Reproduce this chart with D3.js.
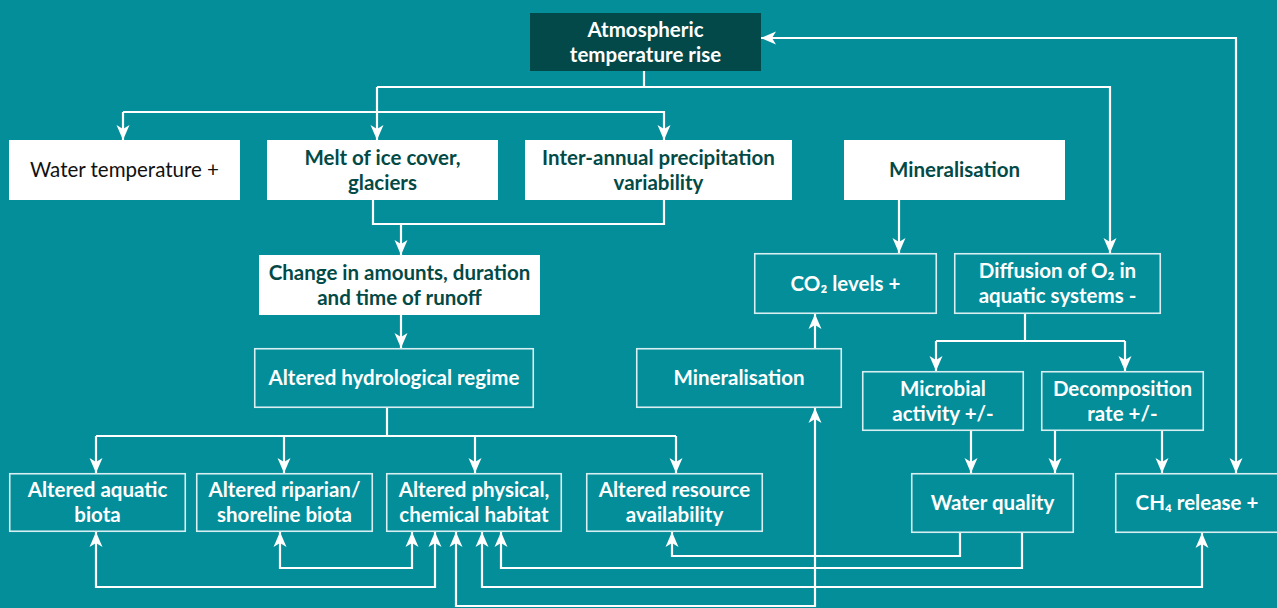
<!DOCTYPE html>
<html>
<head>
<meta charset="utf-8">
<script src="https://cdn.jsdelivr.net/npm/d3@7"></script>
<style>
html,body{margin:0;padding:0;background:#038e9a;}
svg{display:block;}
</style>
</head>
<body>
<script>
// ---------- data ----------
const nodeIds = ["atm","water","melt","inter","minTop","change","hydro","minMid","co2","o2","micro","decomp","aquatic","riparian","physical","resource","wq","ch4"];
const nodeLabels = [
  ["Atmospheric","temperature rise"],
  ["Water temperature +"],
  ["Melt of ice cover,","glaciers"],
  ["Inter-annual precipitation","variability"],
  ["Mineralisation"],
  ["Change in amounts, duration","and time of runoff"],
  ["Altered hydrological regime"],
  ["Mineralisation"],
  ["CO₂ levels +"],
  ["Diffusion of O₂ in","aquatic systems -"],
  ["Microbial","activity +/-"],
  ["Decomposition","rate +/-"],
  ["Altered aquatic","biota"],
  ["Altered riparian/","shoreline biota"],
  ["Altered physical,","chemical habitat"],
  ["Altered resource","availability"],
  ["Water quality"],
  ["CH₄ release +"]
];
const nodeKinds = ["dark","plain","white","white","white","white","outline","outline","outline","outline","outline","outline","outline","outline","outline","outline","outline","outline"];

// ---------- layout (positions / sizes) ----------
const W = 1277, H = 608;
const boxes = {
  atm:[530,13,761,71], water:[9,140,240,200], melt:[267,140,498,200], inter:[525,140,792,200],
  minTop:[844,140,1065,200], change:[259,255,540,315], hydro:[254,348,534,408], minMid:[636,348,842,408],
  co2:[754,253,937,314], o2:[954,253,1161,314], micro:[862,371,1024,431], decomp:[1041,371,1204,431],
  aquatic:[9,473,186,532], riparian:[196,473,373,532], physical:[386,473,562,532], resource:[586,473,763,532],
  wq:[911,473,1074,533], ch4:[1115,473,1279,533]
};
const T = id => boxes[id][1], B = id => boxes[id][3], L = id => boxes[id][0], R = id => boxes[id][2];
// connectors: points, arrow at start / end
const connectors = [
  {p:[[644,B("atm")],[644,87]]},
  {p:[[377,87],[377,T("melt")]], e:1},
  {p:[[377,87],[1110,87],[1110,T("o2")]], e:1},
  {p:[[123,112],[123,T("water")]], e:1},
  {p:[[123,112],[664,112],[664,T("inter")]], e:1},
  {p:[[373,B("melt")],[373,224],[664,224],[664,B("inter")]]},
  {p:[[401,224],[401,T("change")]], e:1},
  {p:[[401,B("change")],[401,T("hydro")]], e:1},
  {p:[[387,B("hydro")],[387,436]]},
  {p:[[96,436],[676,436]]},
  {p:[[96,436],[96,T("aquatic")]], e:1},
  {p:[[284,436],[284,T("riparian")]], e:1},
  {p:[[475,436],[475,T("physical")]], e:1},
  {p:[[676,436],[676,T("resource")]], e:1},
  {p:[[899,B("minTop")],[899,T("co2")]], e:1},
  {p:[[815,T("minMid")],[815,B("co2")]], e:1},
  {p:[[1025,B("o2")],[1025,341]]},
  {p:[[936,341],[1125,341]]},
  {p:[[936,341],[936,T("micro")]], e:1},
  {p:[[1125,341],[1125,T("decomp")]], e:1},
  {p:[[971,B("micro")],[971,T("wq")]], e:1},
  {p:[[1055,B("decomp")],[1055,T("wq")]], e:1},
  {p:[[1162,B("decomp")],[1162,T("ch4")]], e:1},
  {p:[[1236,T("ch4")],[1236,38],[R("atm"),38]], s:1, e:1},
  {p:[[96,B("aquatic")],[96,587],[435,587],[435,B("physical")]], s:1, e:1},
  {p:[[280,B("riparian")],[280,568],[412,568],[412,B("physical")]], s:1, e:1},
  {p:[[456,B("physical")],[456,606],[815,606],[815,B("minMid")]], s:1, e:1},
  {p:[[482,B("physical")],[482,587],[1202,587],[1202,B("ch4")]], s:1, e:1},
  {p:[[501,B("physical")],[501,568],[1022,568],[1022,B("wq")]], s:1},
  {p:[[960,B("wq")],[960,556],[672,556],[672,B("resource")]], e:1}
];

// ---------- styles ----------
const BG = "#038e9a", DARK = "#03494a", INK = "#034a47";
const FONT = "Lato, 'Open Sans', sans-serif";
const FS = 20.5;

const svg = d3.select("body").append("svg").attr("width", W).attr("height", H);
svg.append("rect").attr("width", W).attr("height", H).attr("fill", BG);

const defs = svg.append("defs");
defs.append("marker").attr("id","arr").attr("markerUnits","userSpaceOnUse")
  .attr("viewBox","-18 -9 20 18").attr("refX",0).attr("refY",0)
  .attr("markerWidth",20).attr("markerHeight",18).attr("orient","auto-start-reverse")
  .append("path").attr("d","M0,0 L-15,-6.5 L-11,0 L-15,6.5 Z").attr("fill","#fff");

const nodes = nodeIds.map((id,i)=>({id, lines:nodeLabels[i], kind:nodeKinds[i], b:boxes[id]}));

// connectors
const line = d3.line();
svg.append("g").selectAll("path").data(connectors).join("path")
  .attr("d", d => line(d.p))
  .attr("fill","none").attr("stroke","#fff").attr("stroke-width",2.2)
  .attr("stroke-linejoin","miter").attr("stroke-linecap","butt")
  .attr("marker-start", d => d.s ? "url(#arr)" : null)
  .attr("marker-end", d => d.e ? "url(#arr)" : null);

// boxes
const g = svg.append("g").selectAll("g").data(nodes).join("g");
g.append("rect")
  .attr("x", d => d.b[0] + (d.kind==="outline"?0.75:0))
  .attr("y", d => d.b[1] + (d.kind==="outline"?0.75:0))
  .attr("width", d => d.b[2]-d.b[0] - (d.kind==="outline"?1.5:0))
  .attr("height", d => d.b[3]-d.b[1] - (d.kind==="outline"?1.5:0))
  .attr("fill", d => d.kind==="dark" ? DARK : (d.kind==="outline" ? BG : "#fff"))
  .attr("stroke", d => d.kind==="outline" ? "rgba(255,255,255,0.85)" : "none")
  .attr("stroke-width", 1.6);

const LH = 25;
g.each(function(d){
  const cx = (d.b[0]+d.b[2])/2, cy = (d.b[1]+d.b[3])/2;
  const n = d.lines.length;
  const t = d3.select(this).append("text")
    .attr("text-anchor","middle")
    .attr("font-family", FONT)
    .attr("font-size", FS)
    .attr("font-weight", d.kind==="plain" ? 400 : 700)
    .attr("fill", d.kind==="plain" ? "#111" : (d.kind==="white" ? INK : "#fff"));
  d.lines.forEach((ln,i)=>{
    const y = cy + (i - (n-1)/2)*LH + 7;
    t.append("tspan").attr("x", cx).attr("y", y).text(ln);
  });
});
</script>
</body>
</html>
